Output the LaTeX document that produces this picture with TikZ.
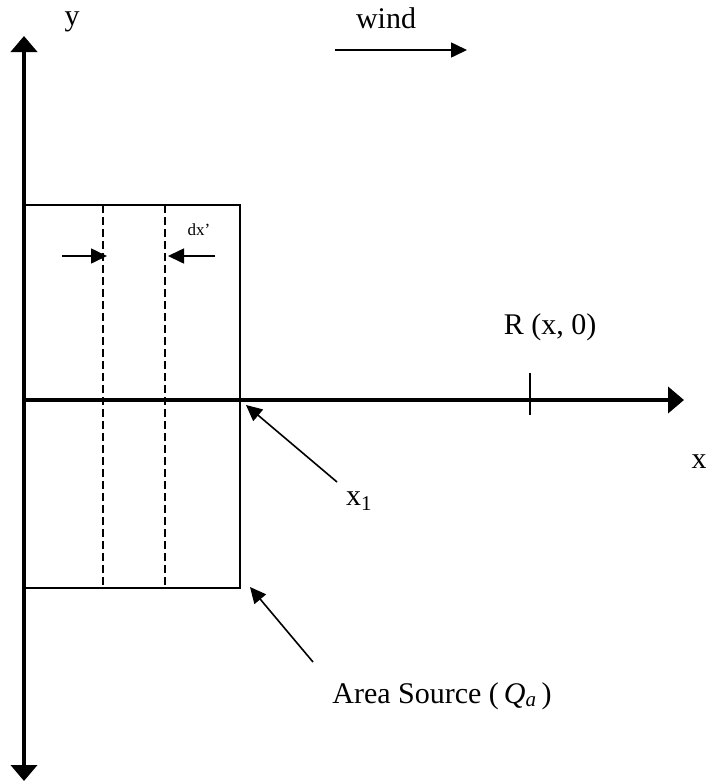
\documentclass[tikz,border=0pt]{standalone}
\usepackage{fontspec}
\setmainfont{Liberation Serif}
\usepackage{tikz}
\usetikzlibrary{arrows.meta, positioning}
\tikzset{
  axisline/.style={line width=4pt,-{Triangle[length=16pt,width=26pt]},black},
  srcline/.style={line width=1.8pt,black},
  stripline/.style={line width=1.5pt,dash pattern=on 8pt off 4pt,black},
  ptrarrow/.style={line width=1.6pt,-{Triangle[length=16pt,width=15pt]},black},
  lbl/.style={inner sep=0pt,font=\fontsize{30pt}{34pt}\selectfont},
  smalllbl/.style={inner sep=0pt,font=\fontsize{17pt}{20pt}\selectfont},
}

\begin{document}
\begin{tikzpicture}[x=1pt,y=-1pt]
  \useasboundingbox (0,0) rectangle (705,782);
  % axes
  \coordinate (yMid) at (24,400);
  \coordinate (yTop) at (24,36);
  \coordinate (yBot) at (24,781);
  \coordinate (xEnd) at (684,400);
  \draw[axisline] (yMid) -- (yTop);
  \draw[axisline] (yMid) -- (yBot);
  \draw[axisline] (yMid) -- (xEnd);
  \node[lbl] (ylab) at (72,22) {y};
  \node[lbl] (xlab) at (699,462) {x};
  % receptor
  \coordinate (tickT) at (530,373);
  \coordinate (tickB) at (530,415);
  \draw[line width=2pt] (tickT) -- (tickB);
  \node[lbl] (rlab) at (550,327) {R (x, 0)};
  % area source and strip
  \draw[srcline] (24,205) rectangle (240,588);
  \coordinate (s1T) at (103,205);
  \coordinate (s1B) at (103,588);
  \coordinate (s2T) at (165,205);
  \coordinate (s2B) at (165,588);
  \draw[stripline] (s1T) -- (s1B);
  \draw[stripline] (s2T) -- (s2B);
  \coordinate (dxL0) at (62,256);
  \coordinate (dxL1) at (107,256);
  \coordinate (dxR0) at (215,256);
  \coordinate (dxR1) at (168,256);
  \draw[ptrarrow] (dxL0) -- (dxL1);
  \draw[ptrarrow] (dxR0) -- (dxR1);
  \node[smalllbl] (dxlab) at (199,230) {dx’};
  % wind
  \node[lbl] (windlab) at (386,18) {wind};
  \coordinate (w0) at (335,50);
  \coordinate (w1) at (467,50);
  \draw[ptrarrow] (w0) -- (w1);
  % pointers
  \node[lbl] (x1lab) at (359,501) {x\textsubscript{1}};
  \coordinate (x1tail) at (337,482);
  \coordinate (x1tip) at (246,405);
  \draw[ptrarrow] (x1tail) -- (x1tip);
  \node[lbl] (srclab) at (442,696) {Area Source (\,\textit{Q}\textsubscript{\textit{a}}\,)};
  \coordinate (srctail) at (313,662);
  \coordinate (srctip) at (250,587);
  \draw[ptrarrow] (srctail) -- (srctip);
\end{tikzpicture}
\end{document}
